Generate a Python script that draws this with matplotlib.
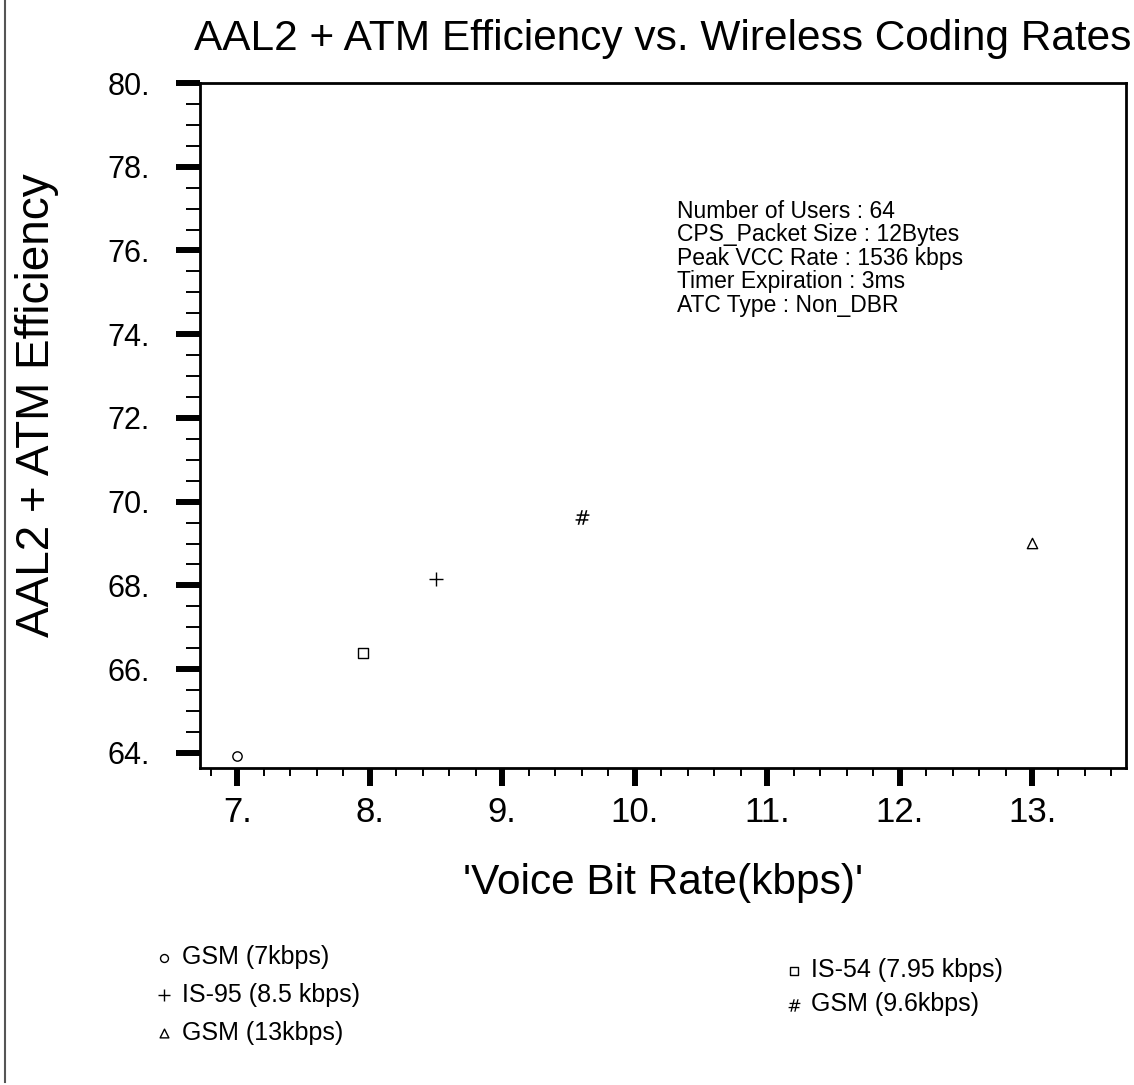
import matplotlib
matplotlib.use('Agg')
import matplotlib.pyplot as plt
from matplotlib.ticker import MultipleLocator, FuncFormatter
from matplotlib.lines import Line2D

plt.rcParams['font.family'] = ['Liberation Sans', 'DejaVu Sans']

# codec points: bit rate (kbps) vs efficiency (%)
codecs = ['GSM (7kbps)', 'IS-54 (7.95 kbps)', 'IS-95 (8.5 kbps)', 'GSM (9.6kbps)', 'GSM (13kbps)']
bit_rate = [7.0, 7.95, 8.5, 9.6, 13.0]
efficiency = [63.93, 66.39, 68.16, 69.64, 69.01]
markers = ['o', 's', '+', '$\\#$', '^']
sizes = [45, 45, 110, 110, 55]

info = ['Number of Users : 64', 'CPS_Packet Size : 12Bytes', 'Peak VCC Rate : 1536 kbps',
        'Timer Expiration : 3ms', 'ATC Type : Non_DBR']

fig = plt.figure(figsize=(11.34, 10.85), dpi=100)
ax = fig.add_axes([0.1764, 0.2922, 0.8166, 0.6313])

handles = {}
for name, x, y, m, s in zip(codecs, bit_rate, efficiency, markers, sizes):
    if m == '+':
        h = ax.scatter([x], [y], marker=m, s=s, c='black', linewidths=1.0, label=name)
    elif m == '$\\#$':
        h = ax.scatter([x], [y], marker=m, s=s, c='black', linewidths=0, label=name)
    else:
        h = ax.scatter([x], [y], marker=m, s=s, facecolors='white', edgecolors='black',
                       linewidths=1.0, label=name)
    handles[name] = h

ax.set_xlim(6.72, 13.71)
ax.set_ylim(63.64, 80.0)
ax.xaxis.set_major_locator(MultipleLocator(1))
ax.xaxis.set_minor_locator(MultipleLocator(0.2))
ax.yaxis.set_major_locator(MultipleLocator(2))
ax.yaxis.set_minor_locator(MultipleLocator(0.5))
fmt = FuncFormatter(lambda v, p: f'{v:.0f}.')
ax.xaxis.set_major_formatter(fmt)
ax.yaxis.set_major_formatter(fmt)

ax.tick_params(axis='y', which='major', direction='out', length=17, width=4.3, labelsize=22, pad=19)
ax.tick_params(axis='y', which='minor', direction='out', length=10, width=1.4)
ax.tick_params(axis='x', which='major', direction='out', length=13, width=4.3, labelsize=25, pad=7)
ax.tick_params(axis='x', which='minor', direction='out', length=6, width=1.4)
for sp in ax.spines.values():
    sp.set_linewidth(2)

ax.set_title('AAL2 + ATM Efficiency vs. Wireless Coding Rates', fontsize=30.5, pad=24)
ax.set_xlabel("'Voice Bit Rate(kbps)'", fontsize=30.5, labelpad=25)
ax.set_ylabel('AAL2 + ATM Efficiency', fontsize=33, labelpad=35)
ax.yaxis.label.set_y(0.53)

ax.text(0.515, 0.829, '\n'.join(info), transform=ax.transAxes, fontsize=16.5,
        va='top', ha='left', linespacing=1.02)

left_names = ['GSM (7kbps)', 'IS-95 (8.5 kbps)', 'GSM (13kbps)']
right_names = ['IS-54 (7.95 kbps)', 'GSM (9.6kbps)']
leg1 = fig.legend([handles[n] for n in left_names], left_names, loc='upper left',
                  bbox_to_anchor=(0.125, 0.138), frameon=False, fontsize=18,
                  handletextpad=0.2, labelspacing=0.55, markerscale=0.85, handlelength=1.0,
                  borderaxespad=0)
leg2 = fig.legend([handles[n] for n in right_names], right_names, loc='upper left',
                  bbox_to_anchor=(0.68, 0.126), frameon=False, fontsize=18,
                  handletextpad=0.2, labelspacing=0.4, markerscale=0.85, handlelength=1.0,
                  borderaxespad=0)

fig.add_artist(Line2D([0.004, 0.004], [0.003, 1.0], transform=fig.transFigure,
                      color='#555555', lw=1.5))

fig.savefig('out.png', dpi=100)
